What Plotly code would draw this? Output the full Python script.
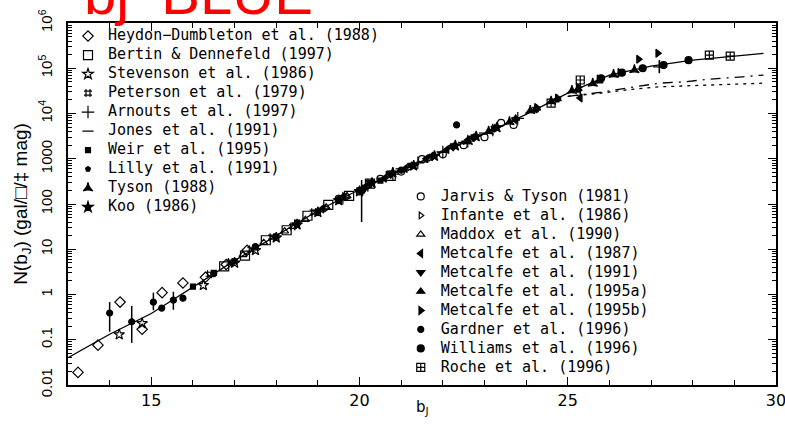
import plotly.graph_objects as go

# ---------------- model curves ----------------
model_b = [13.0, 14.0, 15.0, 16.0, 17.0, 18.0, 19.0, 20.0, 21.0, 22.0, 23.0,
           24.0, 25.0, 26.0, 27.0, 28.0, 29.0, 29.7]
model_N = [0.040, 0.132, 0.38, 1.45, 5.6, 20, 71, 209, 562, 1410, 3550,
           9550, 28200, 70800, 112000, 151000, 186000, 214000]

model2_b = [25.0, 25.8, 26.4, 27.2, 27.8, 28.4, 29.2, 29.7]
model2_N = [24000, 29500, 36300, 46800, 50100, 57500, 64600, 70800]

model3_b = [25.0, 25.8, 26.4, 27.2, 27.8, 28.4, 29.2, 29.7]
model3_N = [24000, 28200, 33100, 38900, 40700, 42700, 44700, 46800]

# ---------------- survey data ----------------
hd_b = [13.24, 13.72, 14.25, 14.78, 15.26, 15.76, 16.3, 16.8, 17.3]
hd_N = [0.019, 0.076, 0.68, 0.17, 1.1, 1.8, 2.4, 4.6, 9.5]

bd_b = [16.75, 17.25, 17.75, 18.25, 18.75, 19.25, 19.75, 20.25, 20.75]
bd_N = [4.2, 7.2, 15.8, 26.3, 55, 95.5, 151, 282, 417]

st_b = [14.23, 14.78, 16.25, 17.0, 17.5, 18.0, 18.5, 19.0, 19.5, 20.0]
st_N = [0.13, 0.23, 1.6, 5.0, 9.5, 18, 35, 66, 120, 190]

pe_b = [16.4, 16.9, 17.4, 17.9, 18.4, 18.9]
pe_N = [2.8, 5.2, 10, 18.5, 32, 66]

ar_b = [19.6, 20.2, 20.8, 21.4, 22.0, 22.6, 23.2, 23.8, 27.2]
ar_N = [135, 257, 457, 813, 1413, 2455, 4325, 7834, 107000]
ar_hi = [135, 257, 457, 813, 1413, 2455, 4325, 7834, 151000]
ar_lo = [135, 257, 457, 813, 1413, 2455, 4325, 7834, 79000]

jo_b = [21.0, 21.5, 22.0, 22.5, 23.0]
jo_N = [600, 850, 1380, 2300, 3700]

we_b = [16.0, 16.5, 17.0, 17.5, 18.0, 18.5, 19.0, 19.5, 20.0, 20.5]
we_N = [1.5, 3.0, 5.4, 11, 19, 39, 68, 125, 200, 330]

li_b = [22.25, 22.75, 23.25, 23.75, 24.25, 24.75, 25.25]
li_N = [1800, 2900, 4600, 7200, 12000, 20000, 33000]

ty_b = [22.6, 23.1, 23.6, 24.1, 24.6, 25.1, 25.6, 26.1, 26.6]
ty_N = [2400, 4000, 6500, 11500, 18500, 32000, 46000, 72000, 92000]

ko_b = [20.3, 20.8, 21.3, 21.8, 22.3, 22.8, 23.3]
ko_N = [290, 490, 700, 1150, 1950, 3100, 4900]

jt_b = [19.5, 20.0, 20.5, 21.0, 21.5, 22.0, 22.5, 23.0, 23.4, 23.7]
jt_N = [130, 190, 360, 520, 980, 1250, 2000, 3000, 6200, 5600]

in_b = [19.2, 19.7, 20.2, 20.7, 21.2, 21.7]
in_N = [80, 140, 240, 430, 650, 1050]

ma_b = [17.2, 17.7, 18.2, 18.7, 19.2, 19.7, 20.2]
ma_N = [7.5, 14, 25, 45, 85, 150, 255]

m87_b = [19.1, 19.6, 20.1, 20.6, 21.1, 21.6, 22.1, 22.6, 25.3]
m87_N = [78, 145, 225, 370, 610, 1000, 1600, 2600, 22000]
m87_hi = [78, 145, 225, 370, 610, 1000, 1600, 2600, 47000]
m87_lo = [78, 145, 225, 370, 610, 1000, 1600, 2600, 20000]

m91_b = [20.25, 20.75, 21.25, 21.75, 22.25, 22.75, 23.25, 23.75, 24.25]
m91_N = [300, 440, 720, 1100, 1800, 2900, 4700, 7400, 12500]

m95a_b = [21.25, 21.75, 22.25, 22.75, 23.25, 23.75, 24.25, 24.75, 25.25, 25.75]
m95a_N = [700, 1150, 1850, 3000, 4800, 7800, 13000, 21000, 35000, 52000]

m95b_b = [24.25, 24.75, 25.25, 25.75, 26.25, 26.7, 27.16]
m95b_N = [13500, 22000, 38000, 58000, 80000, 158000, 214000]

ga_b = [14.0, 14.53, 15.05, 15.25, 15.53, 15.76, 16.5, 17.5, 18.5, 19.5, 20.05, 21.0, 22.33]
ga_N = [0.39, 0.25, 0.68, 0.5, 0.75, 0.83, 2.9, 11.5, 36, 118, 190, 560, 5600]
ga_hi = [0.68, 0.56, 1.1, 0.5, 1.15, 0.83, 2.9, 11.5, 36, 118, 340, 560, 5600]
ga_lo = [0.15, 0.085, 0.45, 0.5, 0.46, 0.83, 2.9, 11.5, 36, 118, 40, 560, 5600]

wi_b = [25.8, 26.3, 26.8, 27.3, 27.9]
wi_N = [60000, 80000, 100000, 118000, 151000]

ro_b = [24.6, 25.3, 28.4, 28.9]
ro_N = [17000, 55000, 195000, 186000]

left_names = ["Heydon\u2212Dumbleton et al. (1988)", "Bertin & Dennefeld (1997)",
              "Stevenson et al. (1986)", "Peterson et al. (1979)",
              "Arnouts et al. (1997)", "Jones et al. (1991)", "Weir et al. (1995)",
              "Lilly et al. (1991)", "Tyson (1988)", "Koo (1986)"]
right_names = ["Jarvis & Tyson (1981)", "Infante et al. (1986)", "Maddox et al. (1990)",
               "Metcalfe et al. (1987)", "Metcalfe et al. (1991)",
               "Metcalfe et al. (1995a)", "Metcalfe et al. (1995b)",
               "Gardner et al. (1996)", "Williams et al. (1996)", "Roche et al. (1996)"]

left_data = [(hd_b, hd_N, None, None), (bd_b, bd_N, None, None), (st_b, st_N, None, None),
             (pe_b, pe_N, None, None), (ar_b, ar_N, ar_hi, ar_lo), (jo_b, jo_N, None, None),
             (we_b, we_N, None, None), (li_b, li_N, None, None), (ty_b, ty_N, None, None),
             (ko_b, ko_N, None, None)]
right_data = [(jt_b, jt_N, None, None), (in_b, in_N, None, None), (ma_b, ma_N, None, None),
              (m87_b, m87_N, m87_hi, m87_lo), (m91_b, m91_N, None, None),
              (m95a_b, m95a_N, None, None), (m95b_b, m95b_N, None, None),
              (ga_b, ga_N, ga_hi, ga_lo), (wi_b, wi_N, None, None), (ro_b, ro_N, None, None)]

left_sym = [("diamond-open", 8), ("square-open", 9), ("star-open", 8), ("hash-open", 8),
            ("cross-thin-open", 9), ("line-ew-open", 8), ("square", 5), ("pentagon", 5),
            ("star-triangle-up", 7), ("star", 8)]
right_sym = [("circle-open", 7), ("triangle-right-open", 6), ("triangle-up-open", 7),
             ("triangle-left", 7), ("triangle-down", 7), ("triangle-up", 7),
             ("triangle-right", 7), ("circle", 6), ("circle-cross", 7), ("square-cross-open", 8)]

fig = go.Figure()

fig.add_trace(go.Scatter(x=model_b, y=model_N, mode="lines", showlegend=False,
                         line=dict(color="black", width=1.3)))
fig.add_trace(go.Scatter(x=model2_b, y=model2_N, mode="lines", showlegend=False,
                         line=dict(color="black", width=1.3, dash="10px,6px,2px,6px")))
fig.add_trace(go.Scatter(x=model3_b, y=model3_N, mode="lines", showlegend=False,
                         line=dict(color="black", width=1.3, dash="3px,5px")))


def add_group(names, data, syms, legend):
    for name, (b, n, hi, lo), (sym, sz) in zip(names, data, syms):
        kw = {}
        if hi is not None:
            kw["error_y"] = dict(type="data", symmetric=False,
                                 array=[h - v for h, v in zip(hi, n)],
                                 arrayminus=[v - l for v, l in zip(n, lo)],
                                 color="black", thickness=1.5, width=0)
        fig.add_trace(go.Scatter(
            x=b, y=n, mode="markers", legend=legend,
            name='<span style="font-size:15px">' + name + '</span>',
            marker=dict(symbol=sym, size=sz, color="black",
                        line=dict(color="black", width=1.2)),
            **kw))


add_group(left_names, left_data, left_sym, "legend")
add_group(right_names, right_data, right_sym, "legend2")

legend_common = dict(bgcolor="rgba(0,0,0,0)", borderwidth=0, itemwidth=30,
                     font=dict(family="DejaVu Sans Mono", size=11, color="black"),
                     xanchor="left", yanchor="top", tracegroupgap=0, itemclick=False)

fig.update_layout(
    width=785, height=437,
    margin=dict(l=68, r=9, t=23, b=52, autoexpand=False),
    paper_bgcolor="white", plot_bgcolor="white",
    legend=dict(x=0.0, y=1.004, **legend_common),
    legend2=dict(x=0.47, y=0.561, **legend_common),
    xaxis=dict(range=[13, 30], dtick=5, tick0=0, ticks="inside", ticklen=8,
               tickwidth=1.3, tickcolor="black", showgrid=False, zeroline=False,
               showline=True, linecolor="black", linewidth=1.6, mirror="ticks",
               automargin=False, ticklabeloverflow="allow",
               tickfont=dict(family="DejaVu Sans", size=16, color="black"),
               minor=dict(dtick=1, ticks="inside", ticklen=5, tickwidth=1.2,
                          tickcolor="black", showgrid=False)),
    yaxis=dict(type="log", range=[-2, 6],
               tickvals=[0.01, 0.1, 1, 10, 100, 1000, 1e4, 1e5, 1e6],
               ticktext=["0.01", "0.1", "1", "10", "100", "1000",
                         "10<sup>4</sup>", "10<sup>5</sup>", "10<sup>6</sup>"],
               tickangle=-90, ticks="inside", ticklen=8, tickwidth=1.3,
               tickcolor="black", showgrid=False, zeroline=False,
               showline=True, linecolor="black", linewidth=1.6, mirror="ticks",
               automargin=False, ticklabeloverflow="allow",
               tickfont=dict(family="Liberation Sans", size=15, color="black"),
               ticklabelstandoff=8,
               minor=dict(dtick="D1", ticks="inside", ticklen=4, tickwidth=1,
                          tickcolor="black", showgrid=False),
               title=dict(text="N(b<sub>J</sub>) (gal/\u25a1/\u2021 mag)", standoff=3,
                          font=dict(family="Liberation Sans", size=19, color="black"))),
    annotations=[
        dict(text="bj\u00a0 BLUE", xref="paper", yref="paper", x=0.02, y=0.987,
             xanchor="left", yanchor="bottom", showarrow=False,
             font=dict(family="Liberation Sans", size=58, color="red")),
        dict(text="b<sub>J</sub>", xref="paper", yref="paper", x=0.5, y=-0.062,
             xanchor="center", yanchor="middle", showarrow=False,
             font=dict(family="DejaVu Sans", size=15, color="black")),
    ],
)

fig.write_html("out.html")
